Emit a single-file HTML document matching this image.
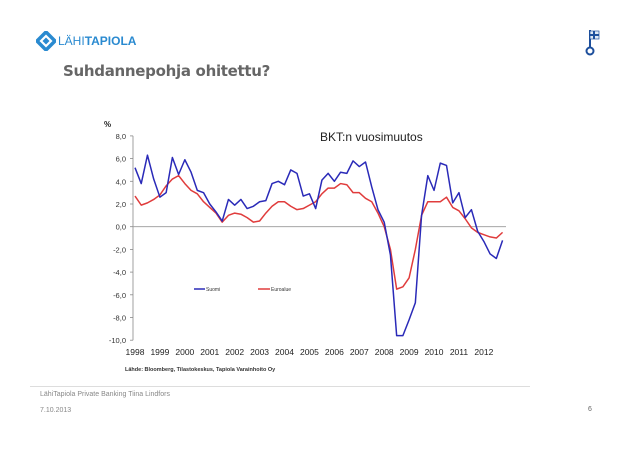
<!DOCTYPE html>
<html><head><meta charset="utf-8"><style>
body{margin:0;width:638px;height:452px;background:#fff;overflow:hidden;position:relative;font-family:"Liberation Sans",sans-serif}
.a{position:absolute}
</style></head><body>
<div class="a" style="left:36px;top:31px;display:flex;align-items:center">
<svg width="20" height="20" viewBox="0 0 20 20"><path d="M10 1 L19 10 L10 19 L1 10 Z" fill="none" stroke="#2a8ad0" stroke-width="3.5"/><path d="M10 6.5 L13.5 10 L10 13.5 L6.5 10Z" fill="#2a8ad0"/></svg>
<span style="font-size:12px;color:#2a8ad0;margin-left:2px">LÄHI<b>TAPIOLA</b></span></div>
<svg class="a" style="left:583px;top:28px" width="22" height="30"><line x1="7" y1="2" x2="7" y2="20" stroke="#1d4f9c" stroke-width="2"/><rect x="7" y="3" width="9" height="8" fill="#dfe9f5" stroke="#1d4f9c" stroke-width="0.7"/><line x1="11" y1="3" x2="11" y2="11" stroke="#1d4f9c" stroke-width="2"/><line x1="7" y1="7" x2="16" y2="7" stroke="#1d4f9c" stroke-width="2"/><circle cx="7" cy="23" r="3.5" fill="none" stroke="#1d4f9c" stroke-width="2"/></svg>
<div class="a" style="left:63px;top:62px;font-size:15px;font-weight:bold;color:#666;font-family:'DejaVu Sans',sans-serif;letter-spacing:-0.3px">Suhdannepohja ohitettu?</div>
<svg class="a" style="left:0;top:0" width="638" height="452" id="chart"></svg>
<div class="a" style="left:30px;top:386px;width:500px;border-top:1px solid #ddd"></div>
<div class="a" style="left:40px;top:391px;font-size:7px;color:#888">LähiTapiola Private Banking Tiina Lindfors</div>
<div class="a" style="left:40px;top:407px;font-size:7px;color:#888">7.10.2013</div>
<div class="a" style="left:588px;top:406px;font-size:7px;color:#666">6</div>
<script>
const years=["1998","1999","2000","2001","2002","2003","2004","2005","2006","2007","2008","2009","2010","2011","2012"];
const yTicks=[8,6,4,2,0,-2,-4,-6,-8,-10];
const suomi=[5.2,3.8,6.3,4.2,2.6,3.0,6.1,4.6,5.9,4.8,3.2,3.0,2.0,1.3,0.5,2.4,1.9,2.4,1.6,1.8,2.2,2.3,3.8,4.0,3.7,5.0,4.7,2.7,2.9,1.6,4.1,4.7,4.0,4.8,4.7,5.8,5.3,5.7,3.5,1.5,0.4,-2.5,-9.6,-9.6,-8.2,-6.7,1.0,4.5,3.2,5.6,5.4,2.1,3.0,0.8,1.5,-0.4,-1.3,-2.4,-2.8,-1.2];
const euro=[2.7,1.9,2.1,2.4,2.8,3.6,4.2,4.5,3.8,3.2,2.9,2.2,1.7,1.2,0.4,1.0,1.2,1.1,0.8,0.4,0.5,1.2,1.8,2.2,2.2,1.8,1.5,1.6,1.9,2.2,2.9,3.4,3.4,3.8,3.7,3.0,3.0,2.5,2.2,1.2,0.0,-2.0,-5.5,-5.3,-4.5,-2.0,1.0,2.2,2.2,2.2,2.6,1.7,1.4,0.7,-0.1,-0.5,-0.7,-0.9,-1.0,-0.5];
const svg=document.getElementById('chart');const NS='http://www.w3.org/2000/svg';
const X=q=>135+q*6.23, Y=v=>226.7-v*11.35;
function mk(t,a,txt){const e=document.createElementNS(NS,t);for(const k in a)e.setAttribute(k,a[k]);if(txt!==undefined)e.textContent=txt;svg.appendChild(e);return e;}
let e=mk('line',{x1:133,y1:Y(8),x2:133,y2:Y(-10),stroke:'#888','stroke-width':0.8});


e=mk('line',{x1:133,y1:Y(0),x2:506,y2:Y(0),stroke:'#999','stroke-width':0.8});


yTicks.forEach(v=>{
 const t=mk('text',{x:126,y:Y(v)+3,'font-size':7.5,'text-anchor':'end',fill:'#333'},v.toFixed(1).replace('.',','));
 
 
 const l=mk('line',{x1:130,y1:Y(v),x2:133,y2:Y(v),stroke:'#888','stroke-width':0.8});
 
 
});
years.forEach((y,i)=>{
 const t=mk('text',{x:X(i*4),y:355,'font-size':8.5,'text-anchor':'middle',fill:'#222'},y);
 
 
});
function line(d,c,n){const p=mk('polyline',{points:d.map((v,i)=>X(i)+','+Y(v)).join(' '),fill:'none',stroke:c,'stroke-width':1.5,'stroke-linejoin':'round'});
 
 }
line(euro,'#e03c3c','series-euroalue');
line(suomi,'#2a2ab8','series-suomi');
e=mk('text',{x:104,y:127,'font-size':8,'font-weight':'bold',fill:'#222'},'%');


e=mk('text',{x:320,y:141,'font-size':12,fill:'#222'},'BKT:n vuosimuutos');


e=mk('line',{x1:194,y1:289,x2:205,y2:289,stroke:'#2a2ab8','stroke-width':1.5});


e=mk('text',{x:206,y:291,'font-size':5,fill:'#333'},'Suomi');


e=mk('line',{x1:258,y1:289,x2:270,y2:289,stroke:'#e03c3c','stroke-width':1.5});


e=mk('text',{x:271,y:291,'font-size':5,fill:'#333'},'Euroalue');


e=mk('text',{x:125,y:371,'font-size':5.5,'font-weight':'bold',fill:'#333'},'Lähde: Bloomberg, Tilastokeskus, Tapiola Varainhoito Oy');


</script>
</body></html>
